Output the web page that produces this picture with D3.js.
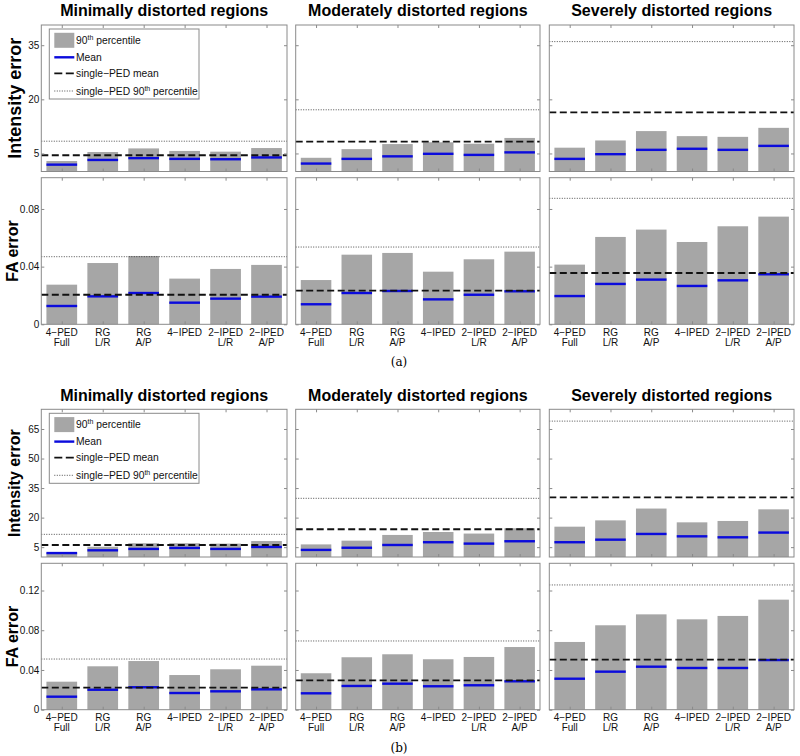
<!DOCTYPE html>
<html><head><meta charset="utf-8">
<script src="https://cdn.jsdelivr.net/npm/d3@7"></script>
<style>
body{margin:0;background:#fff}
svg{display:block;font-family:"Liberation Sans",Arial,Helvetica,sans-serif}
</style>
</head><body>
<svg id="c" width="800" height="756"></svg>
<script>
// ---------- data ----------
const catLine1 = ["4\u2212PED","RG","RG","4\u2212IPED","2\u2212IPED","2\u2212IPED"];
const catLine2 = ["Full","L/R","A/P","","L/R","A/P"];
const regions = ["Minimally distorted regions","Moderately distorted regions","Severely distorted regions"];
const legendLabels = ["90th percentile","Mean","single\u2212PED mean","single\u2212PED 90th percentile"];

// (a) intensity error
const aIntP90 = [[2.9,5.4,6.4,5.7,5.5,6.5],[3.8,6.2,7.6,8.1,7.7,9.3],[6.6,8.6,11.2,9.8,9.6,12.1]];
const aIntMean = [[1.9,3.2,3.7,3.5,3.4,3.9],[2.2,3.5,4.2,4.9,4.6,5.3],[3.5,4.8,6.0,6.3,6.0,7.1]];
const aIntSingleMean = [4.5,8.3,16.4];
const aIntSingleP90 = [8.4,17.1,36.0];
const aIntTicks = [5,20,35];
const aIntMax = 40.6;
// (a) FA error
const aFaP90 = [[0.0275,0.0425,0.0474,0.0317,0.0384,0.0412],[0.0307,0.0483,0.0495,0.0365,0.0451,0.0504],[0.0414,0.0606,0.0657,0.0571,0.068,0.0747]];
const aFaMean = [[0.0127,0.0194,0.0217,0.015,0.0178,0.0192],[0.0139,0.0217,0.0231,0.0173,0.0205,0.0229],[0.0196,0.028,0.031,0.0266,0.0305,0.0347]];
const aFaSingleMean = [0.0205,0.0233,0.0356];
const aFaSingleP90 = [0.0469,0.0536,0.0874];
const aFaTicks = [0,0.04,0.08];
const aFaMax = 0.1017;
// (b) intensity error
const bIntP90 = [[2.2,5.2,7.0,7.0,6.8,8.1],[6.4,8.3,11.2,12.7,11.9,14.6],[15.4,18.6,24.6,17.6,18.3,24.2]];
const bIntMean = [[2.0,3.4,4.1,4.6,4.1,5.1],[3.6,4.7,6.1,7.5,6.8,8.0],[7.5,8.8,11.7,10.5,10.0,12.4]];
const bIntSingleMean = [6.1,14.1,30.3];
const bIntSingleP90 = [11.5,29.8,69.0];
const bIntTicks = [5,20,35,50,65];
const bIntMax = 75;
// (b) FA error
const bFaP90 = [[0.0282,0.0437,0.049,0.0349,0.0407,0.0443],[0.0367,0.0528,0.0558,0.0508,0.0531,0.0631],[0.0682,0.085,0.096,0.091,0.0944,0.1108]];
const bFaMean = [[0.0131,0.0201,0.0226,0.0168,0.0185,0.0205],[0.0165,0.0239,0.0262,0.0236,0.0246,0.0286],[0.0312,0.0383,0.0433,0.042,0.042,0.05]];
const bFaSingleMean = [0.0222,0.0296,0.0504];
const bFaSingleP90 = [0.051,0.0692,0.1256];
const bFaTicks = [0,0.04,0.08,0.12];
const bFaMax = 0.1474;

// ---------- drawing ----------
const svg = d3.select("#c");
const BAR = "#a6a6a6", BLUE = "#0b0bdc", FRAME = "#8a8a8a";
const DASH = "7,3.5", DOT = "1,1.5";
const panelsX = [[41.3,287],[295.7,540],[549.3,794]];

const figures = [
  {caption:"(a)", capY:366, titleY:16,
   rows:[
    {label:"Intensity error", lsize:18, lx:21, top:25, bottom:171.5, max:aIntMax, ticks:aIntTicks, fmt:d3.format("d"),
     p90:aIntP90, mean:aIntMean, sm:aIntSingleMean, sp:aIntSingleP90, legend:true},
    {label:"FA error", lsize:16, lx:18, top:177.7, bottom:324.3, max:aFaMax, ticks:aFaTicks, fmt:d=>d===0?"0":d3.format(".2f")(d),
     p90:aFaP90, mean:aFaMean, sm:aFaSingleMean, sp:aFaSingleP90, xlabels:true}
   ]},
  {caption:"(b)", capY:752, titleY:401,
   rows:[
    {label:"Intensity error", lsize:16, lx:20, top:409.3, bottom:557, max:bIntMax, ticks:bIntTicks, fmt:d3.format("d"),
     p90:bIntP90, mean:bIntMean, sm:bIntSingleMean, sp:bIntSingleP90, legend:true},
    {label:"FA error", lsize:16, lx:18, top:563.3, bottom:709.7, max:bFaMax, ticks:bFaTicks, fmt:d=>d===0?"0":d3.format(".2f")(d),
     p90:bFaP90, mean:bFaMean, sm:bFaSingleMean, sp:bFaSingleP90, xlabels:true}
   ]}
];

figures.forEach(fig => {
  regions.forEach((r,pi) => {
    svg.append("text").attr("x",(panelsX[pi][0]+panelsX[pi][1])/2).attr("y",fig.titleY)
      .attr("text-anchor","middle").attr("font-weight","bold").attr("font-size",16).attr("fill","#000").text(r);
  });
  svg.append("text").attr("x",399).attr("y",fig.capY).attr("text-anchor","middle")
    .attr("font-family","'DejaVu Serif','Liberation Serif',serif").attr("font-size",12).text(fig.caption);

  fig.rows.forEach(row => {
    const y = d3.scaleLinear().domain([0,row.max]).range([row.bottom,row.top]);
    svg.append("text").attr("transform",`translate(${row.lx},${(row.top+row.bottom)/2}) rotate(-90)`)
      .attr("text-anchor","middle").attr("font-weight","bold").attr("font-size",row.lsize).text(row.label);

    regions.forEach((r,pi) => {
      const [x0,x1] = panelsX[pi];
      const x = d3.scaleBand().domain(d3.range(6)).range([x0,x1]).paddingInner(0.25).paddingOuter(0.125);
      const g = svg.append("g");
      g.selectAll("rect.bar").data(row.p90[pi]).join("rect")
        .attr("x",(d,i)=>x(i)).attr("width",x.bandwidth())
        .attr("y",d=>y(d)).attr("height",d=>y(0)-y(d)).attr("fill",BAR);
      g.selectAll("line.mean").data(row.mean[pi]).join("line")
        .attr("x1",(d,i)=>x(i)).attr("x2",(d,i)=>x(i)+x.bandwidth())
        .attr("y1",d=>y(d)).attr("y2",d=>y(d)).attr("stroke",BLUE).attr("stroke-width",2.4);
      g.append("line").attr("x1",x0).attr("x2",x1).attr("y1",y(row.sm[pi])).attr("y2",y(row.sm[pi]))
        .attr("stroke","#111").attr("stroke-width",1.8).attr("stroke-dasharray",DASH);
      g.append("line").attr("x1",x0).attr("x2",x1).attr("y1",y(row.sp[pi])).attr("y2",y(row.sp[pi]))
        .attr("stroke","#222").attr("stroke-width",0.8).attr("stroke-dasharray",DOT);
      const la = g.append("g").attr("transform",`translate(${x0},0)`)
        .call(d3.axisLeft(y).tickValues(row.ticks).tickSize(-3).tickPadding(2).tickFormat(pi===0?row.fmt:""));
      const ra = g.append("g").attr("transform",`translate(${x1},0)`)
        .call(d3.axisRight(y).tickValues(row.ticks).tickSize(-3).tickFormat(""));
      const xc = i => x(i)+x.bandwidth()/2;
      const xs = d3.scalePoint().domain(d3.range(6)).range([xc(0),xc(5)]);
      const ba = g.append("g").attr("transform",`translate(0,${row.bottom})`)
        .call(d3.axisBottom(xs).tickSize(-3).tickFormat(""));
      const ta = g.append("g").attr("transform",`translate(0,${row.top})`)
        .call(d3.axisTop(xs).tickSize(-3).tickFormat(""));
      [la,ra,ba,ta].forEach(a => {
        a.select(".domain").remove();
        a.selectAll(".tick line").attr("stroke",FRAME);
        a.selectAll(".tick text").attr("font-size",10).attr("font-family","'Liberation Sans',Arial,sans-serif").attr("fill","#111");
      });
      g.append("rect").attr("x",x0).attr("y",row.top).attr("width",x1-x0).attr("height",row.bottom-row.top)
        .attr("fill","none").attr("stroke",FRAME).attr("stroke-width",1);
      if (row.xlabels) {
        catLine1.forEach((c,i) => {
          const t = g.append("text").attr("x",xc(i)).attr("text-anchor","middle").attr("font-size",10).attr("fill","#111");
          t.append("tspan").attr("x",xc(i)).attr("y",row.bottom+11.2).text(c);
          t.append("tspan").attr("x",xc(i)).attr("y",row.bottom+21.6).text(catLine2[i]);
        });
      }
      if (row.legend && pi===0) {
        const lx = 49.3, ly = row.top+4, lw = 149.7, lh = 70;
        const lg = g.append("g");
        lg.append("rect").attr("x",lx).attr("y",ly).attr("width",lw).attr("height",lh)
          .attr("fill","#fff").attr("stroke",FRAME).attr("stroke-width",1);
        const rowsY = [ly+11.3, ly+28.3, ly+44.3, ly+62];
        lg.append("rect").attr("x",54.3).attr("y",rowsY[0]-7.5).attr("width",20).attr("height",15).attr("fill",BAR);
        lg.append("line").attr("x1",54.3).attr("x2",74.3).attr("y1",rowsY[1]).attr("y2",rowsY[1]).attr("stroke",BLUE).attr("stroke-width",2.4);
        lg.append("line").attr("x1",54.3).attr("x2",74.3).attr("y1",rowsY[2]).attr("y2",rowsY[2]).attr("stroke","#111").attr("stroke-width",1.8).attr("stroke-dasharray","8,3.5");
        lg.append("line").attr("x1",54.3).attr("x2",74.3).attr("y1",rowsY[3]).attr("y2",rowsY[3]).attr("stroke","#222").attr("stroke-width",0.8).attr("stroke-dasharray",DOT);
        legendLabels.forEach((lab,i) => {
          const t = lg.append("text").attr("x",76).attr("y",rowsY[i]+3.7).attr("font-size",10.3).attr("fill","#111");
          const m = lab.match(/^(.*?)(\d+)th(.*)$/);
          if (m) {
            t.append("tspan").text(m[1]+m[2]);
            t.append("tspan").attr("font-size",7).attr("dy",-4).text("th");
            t.append("tspan").attr("dy",4).text(m[3]);
          } else t.text(lab);
        });
      }
    });
  });
});
</script>
</body></html>
